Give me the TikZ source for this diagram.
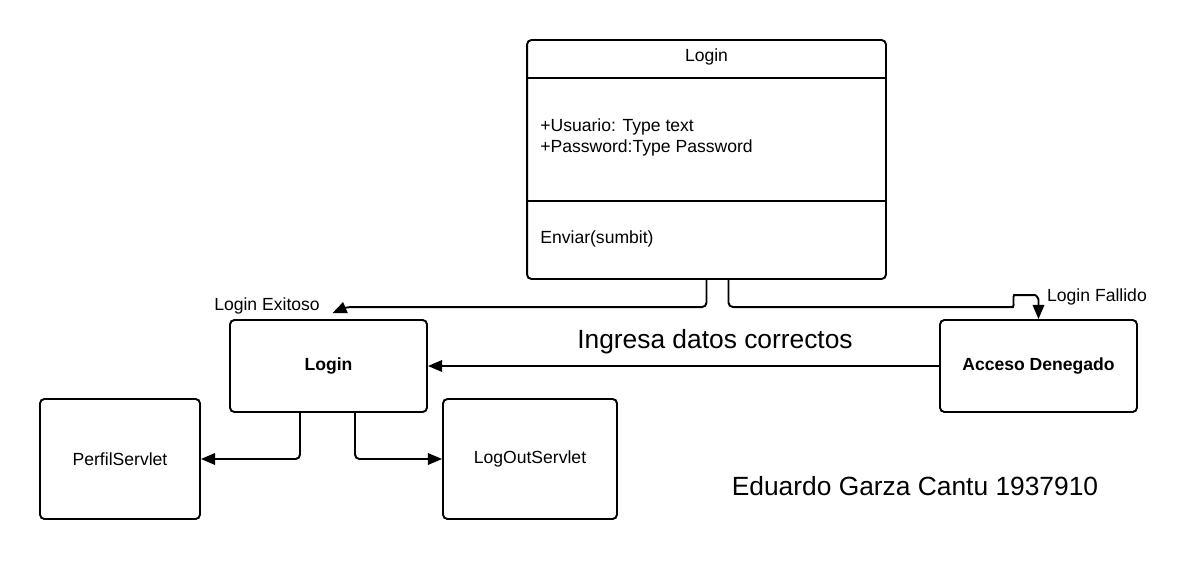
\documentclass[tikz,border=0pt]{standalone}
\usepackage{fontspec}
\setmainfont{Liberation Sans}
\usetikzlibrary{arrows.meta,calc}

\tikzset{
  box/.style={draw, line width=1.1pt, rounded corners=2.5pt, inner sep=0pt},
  lbl/.style={inner sep=0pt},
  big/.style={inner sep=0pt, font=\fontsize{15}{18}\selectfont},
  link/.style={line width=1.1pt, rounded corners=2.5pt, -{Triangle[length=8pt,width=6.5pt]}}
}

\begin{document}
\begin{tikzpicture}[x=0.02cm, y=-0.02cm, font=\fontsize{10}{12}\selectfont]
    \useasboundingbox (0,0) rectangle (1188,565);

    % Class box
    \node[box, minimum width=7.18cm, minimum height=4.78cm] (cls) at (706.5,159.5) {};
    \draw[line width=1.1pt] (cls.west |- 0,78) -- (cls.east |- 0,78);
    \draw[line width=1.1pt] (cls.west |- 0,201) -- (cls.east |- 0,201);
    \node[lbl] (title) at (706.5,57) {Login};
    \node[lbl, anchor=west] (usr) at (540,127) {+Usuario: Type text};
    \node[lbl, anchor=west] (pwd) at (540,148) {+Password:Type Password};
    \node[lbl, anchor=west] (send) at (540,239) {Enviar(sumbit)};

    % Boxes
    \node[box, minimum width=3.94cm, minimum height=1.84cm, font=\fontsize{10}{12}\selectfont\bfseries] (login) at (328.5,366) {Login};
    \node[box, minimum width=3.94cm, minimum height=1.84cm, font=\fontsize{10}{12}\selectfont\bfseries] (acc) at (1038.5,366) {Acceso Denegado};
    \node[box, minimum width=3.2cm, minimum height=2.4cm] (perfil) at (120,459) {PerfilServlet};
    \node[box, minimum width=3.48cm, minimum height=2.4cm] (logout) at (530,459) {LogOutServlet};

    % Connectors
    \draw[link] (cls.south) |- ($(login.north)+(18,-12)$) -- ($(login.north)+(4,-6)$);
    \draw[link] ($(cls.south)+(22,0)$) |- ($(acc.north)+(-30,-12)$)
        .. controls ($(acc.north)+(-24,-12)$) and ($(acc.north)+(-26,-24)$) .. ($(acc.north)+(-20,-24)$)
        -- ($(acc.north)+(-8,-24)$)
        .. controls ($(acc.north)+(-2,-24)$) and ($(acc.north)+(0,-20)$) .. ($(acc.north)+(0,-15)$)
        -- (acc.north);
    \draw[link] (acc.west) -- (login.east);
    \draw[link] ($(login.south)+(-28.5,0)$) |- (perfil.east);
    \draw[link] ($(login.south)+(26.5,0)$) |- (logout.west);

    % Labels
    \node[lbl] (exito) at (267,306) {Login Exitoso};
    \node[lbl] (fallo) at (1097,297) {Login Fallido};
    \node[big] (datos) at (715,342) {Ingresa datos correctos};
    \node[big] (autor) at (915,486) {Eduardo Garza Cantu 1937910};
\end{tikzpicture}
\end{document}
